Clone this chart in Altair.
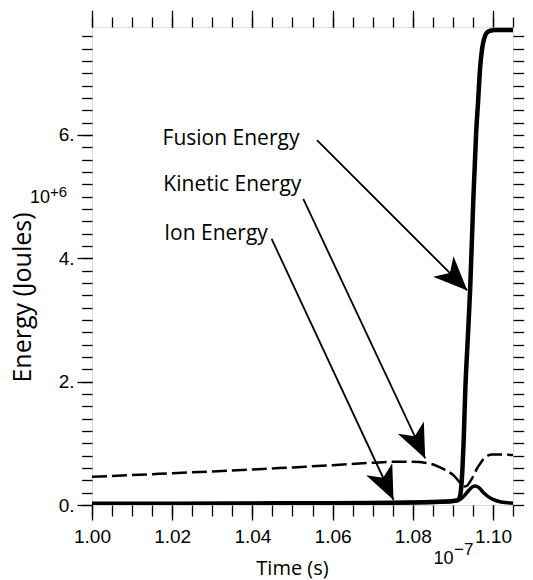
import math
import altair as alt
import pandas as pd

# Time in units of 1e-7 s, energy in units of 1e+6 J
fusion_t = [1.000, 1.020, 1.040, 1.060, 1.080, 1.088, 1.0905, 1.0912, 1.0917, 1.0921, 1.0924,
            1.0927, 1.0931, 1.0937, 1.0943, 1.0951, 1.0958, 1.0963, 1.0968, 1.0973, 1.0978,
            1.0985, 1.0993, 1.1006, 1.105]
fusion_e = [0.02, 0.02, 0.025, 0.03, 0.04, 0.055, 0.07, 0.08, 0.12, 0.30, 0.60,
            1.05, 1.86, 2.67, 3.48, 4.94, 6.02, 6.55, 7.09, 7.40, 7.56,
            7.66, 7.69, 7.70, 7.70]

ion_t = [1.000, 1.020, 1.040, 1.060, 1.080, 1.088, 1.090, 1.091, 1.092, 1.093, 1.094,
         1.095, 1.0956, 1.0965, 1.0975, 1.0985, 1.100, 1.102, 1.105]
ion_e = [0.02, 0.02, 0.025, 0.03, 0.04, 0.05, 0.06, 0.07, 0.10, 0.16, 0.24,
         0.30, 0.31, 0.28, 0.21, 0.15, 0.09, 0.05, 0.03]

kin_t = [1.000, 1.010, 1.020, 1.030, 1.040, 1.050, 1.060, 1.070, 1.075, 1.080, 1.0843,
         1.0877, 1.0902, 1.0918, 1.0927, 1.0935, 1.0943, 1.0952, 1.0960, 1.0968, 1.0977,
         1.0987, 1.0998, 1.102, 1.105]
kin_e = [0.458, 0.485, 0.515, 0.545, 0.575, 0.61, 0.645, 0.685, 0.70, 0.70, 0.67,
         0.58, 0.48, 0.36, 0.30, 0.31, 0.38, 0.48, 0.59, 0.67, 0.75,
         0.80, 0.82, 0.82, 0.81]

ann_text = ["Fusion Energy", "Kinetic Energy", "Ion Energy"]
ann_t = [1.0176, 1.0178, 1.0180]
ann_e = [5.84, 5.09, 4.30]

arrow_t0 = [1.0561, 1.0527, 1.0448]
arrow_e0 = [5.917, 4.963, 4.315]
arrow_t1 = [1.0936, 1.0831, 1.0752]
arrow_e1 = [3.479, 0.755, 0.081]

x_major = [1.00, 1.02, 1.04, 1.06, 1.08, 1.10]
x_minor = [1.000, 1.005, 1.010, 1.015, 1.020, 1.025, 1.030, 1.035, 1.040, 1.045, 1.050,
           1.055, 1.060, 1.065, 1.070, 1.075, 1.080, 1.085, 1.090, 1.095, 1.100, 1.105]
y_major = [0, 2, 4, 6]
y_minor = [0, 0.2, 0.4, 0.6, 0.8, 1.0, 1.2, 1.4, 1.6, 1.8, 2.0, 2.2, 2.4, 2.6, 2.8, 3.0,
           3.2, 3.4, 3.6, 3.8, 4.0, 4.2, 4.4, 4.6, 4.8, 5.0, 5.2, 5.4, 5.6, 5.8, 6.0,
           6.2, 6.4, 6.6, 6.8, 7.0, 7.2, 7.4, 7.6]

X_DOM = [1.0, 1.105]
Y_DOM = [0, 7.75]
W, H = 421, 478

LABEL_FONT = "Liberation Sans"
TEXT_FONT = "Open Sans"

xs = alt.Scale(domain=X_DOM, nice=False, zero=False)
ys = alt.Scale(domain=Y_DOM, nice=False, zero=False)


def tick_axis(orient, values, size):
    return alt.Axis(orient=orient, values=values, tickSize=size, tickWidth=1.3,
                    tickColor="black", labels=False, domain=False, grid=False, title=None)


fus_df = pd.DataFrame({"t": fusion_t, "e": fusion_e})
ion_df = pd.DataFrame({"t": ion_t, "e": ion_e})
kin_df = pd.DataFrame({"t": kin_t, "e": kin_e})

x_bottom = alt.Axis(orient="bottom", values=x_major, format=".2f", tickSize=15, tickWidth=1.3,
                    tickColor="black", domain=False, grid=False,
                    labelFont=LABEL_FONT, labelFontSize=19, labelColor="black",
                    labelBaseline="alphabetic", labelPadding=22, labelFlush=False,
                    labelOverlap=False,
                    title="Time (s)", titleFont=TEXT_FONT, titleFontSize=20,
                    titleFontWeight="normal", titleColor="black",
                    titleX=200, titleY=69, titleBaseline="alphabetic")
y_left = alt.Axis(orient="left", values=y_major, labelExpr="datum.value + '.'",
                  tickSize=15, tickWidth=1.3, tickColor="black", domain=False, grid=False,
                  labelFont=LABEL_FONT, labelFontSize=19, labelColor="black",
                  labelBaseline="middle", labelPadding=3, labelFlush=False,
                  labelOverlap=False,
                  title="Energy (Joules)", titleFont=TEXT_FONT, titleFontSize=25,
                  titleFontWeight="normal", titleColor="black",
                  titleX=-70, titleY=270, titleAngle=270, titleBaseline="middle")

fusion = alt.Chart(fus_df).mark_line(color="black", strokeWidth=4.5, interpolate="monotone",
                                     clip=True).encode(
    x=alt.X("t:Q", scale=xs, axis=x_bottom),
    y=alt.Y("e:Q", scale=ys, axis=y_left),
)

ion = alt.Chart(ion_df).mark_line(color="black", strokeWidth=3.5, interpolate="monotone",
                                  clip=True).encode(
    x=alt.X("t:Q", scale=xs, axis=tick_axis("bottom", x_minor, 11)),
    y=alt.Y("e:Q", scale=ys, axis=tick_axis("left", y_minor, 10.3)),
)

kin = alt.Chart(kin_df).mark_line(color="black", strokeWidth=2.5, strokeDash=[15, 5],
                                  interpolate="monotone", clip=True).encode(
    x=alt.X("t:Q", scale=xs, axis=tick_axis("top", x_major, 16.7)),
    y=alt.Y("e:Q", scale=ys, axis=tick_axis("right", y_minor, 10.7)),
)

# arrows
px_t = W / (X_DOM[1] - X_DOM[0])
px_e = H / (Y_DOM[1] - Y_DOM[0])
angles = []
for a0, b0, a1, b1 in zip(arrow_t0, arrow_e0, arrow_t1, arrow_e1):
    dx = (a1 - a0) * px_t
    dy = -(b1 - b0) * px_e
    angles.append(math.degrees(math.atan2(dx, -dy)) % 360)

arr_df = pd.DataFrame({"t0": arrow_t0, "e0": arrow_e0, "t1": arrow_t1, "e1": arrow_e1,
                       "ang": angles})

arrow_lines = alt.Chart(arr_df).mark_rule(color="black", strokeWidth=1.8).encode(
    x=alt.X("t0:Q", scale=xs, axis=tick_axis("top", x_minor, 10)),
    y=alt.Y("e0:Q", scale=ys, axis=None),
    x2="t1:Q",
    y2="e1:Q",
)

head_path = "M0,0 L0.85,2 L0,1.45 L-0.85,2 Z"
arrow_heads = alt.Chart(arr_df).mark_point(shape=head_path, filled=True, size=1150,
                                           color="black", opacity=1, strokeWidth=0).encode(
    x=alt.X("t1:Q", scale=xs, axis=None),
    y=alt.Y("e1:Q", scale=ys, axis=None),
    angle=alt.Angle("ang:Q", scale=None),
)

ann_df = pd.DataFrame({"label": ann_text, "t": ann_t, "e": ann_e})
labels = alt.Chart(ann_df).mark_text(font=TEXT_FONT, fontSize=21, align="left",
                                     baseline="alphabetic", color="black").encode(
    x=alt.X("t:Q", scale=xs, axis=None),
    y=alt.Y("e:Q", scale=ys, axis=None),
    text="label:N",
)

exp_y_base = alt.Chart(pd.DataFrame({"s": ["10"]})).mark_text(
    font=LABEL_FONT, fontSize=18, align="right", baseline="alphabetic", color="black"
).encode(x=alt.value(-42), y=alt.value(176), text="s:N")
exp_y_sup = alt.Chart(pd.DataFrame({"s": ["+6"]})).mark_text(
    font=LABEL_FONT, fontSize=15, align="left", baseline="alphabetic", color="black"
).encode(x=alt.value(-42), y=alt.value(170), text="s:N")
exp_x_base = alt.Chart(pd.DataFrame({"s": ["10"]})).mark_text(
    font=LABEL_FONT, fontSize=18, align="right", baseline="alphabetic", color="black"
).encode(x=alt.value(361.5), y=alt.value(537), text="s:N")
exp_x_sup = alt.Chart(pd.DataFrame({"s": ["\u22127"]})).mark_text(
    font=LABEL_FONT, fontSize=17, align="left", baseline="alphabetic", color="black"
).encode(x=alt.value(362), y=alt.value(528), text="s:N")

chart = alt.layer(
    kin, ion, fusion, arrow_lines, arrow_heads, labels,
    exp_y_base, exp_y_sup, exp_x_base, exp_x_sup,
).resolve_axis(x="independent", y="independent").properties(
    width=W, height=H,
    autosize=alt.AutoSizeParams(type="none"),
    padding={"left": 92, "top": 27, "right": 20, "bottom": 75},
).configure_view(stroke="black", strokeWidth=2).configure(background="white")

chart.save("out.html", embed_options={"renderer": "svg", "actions": False})
